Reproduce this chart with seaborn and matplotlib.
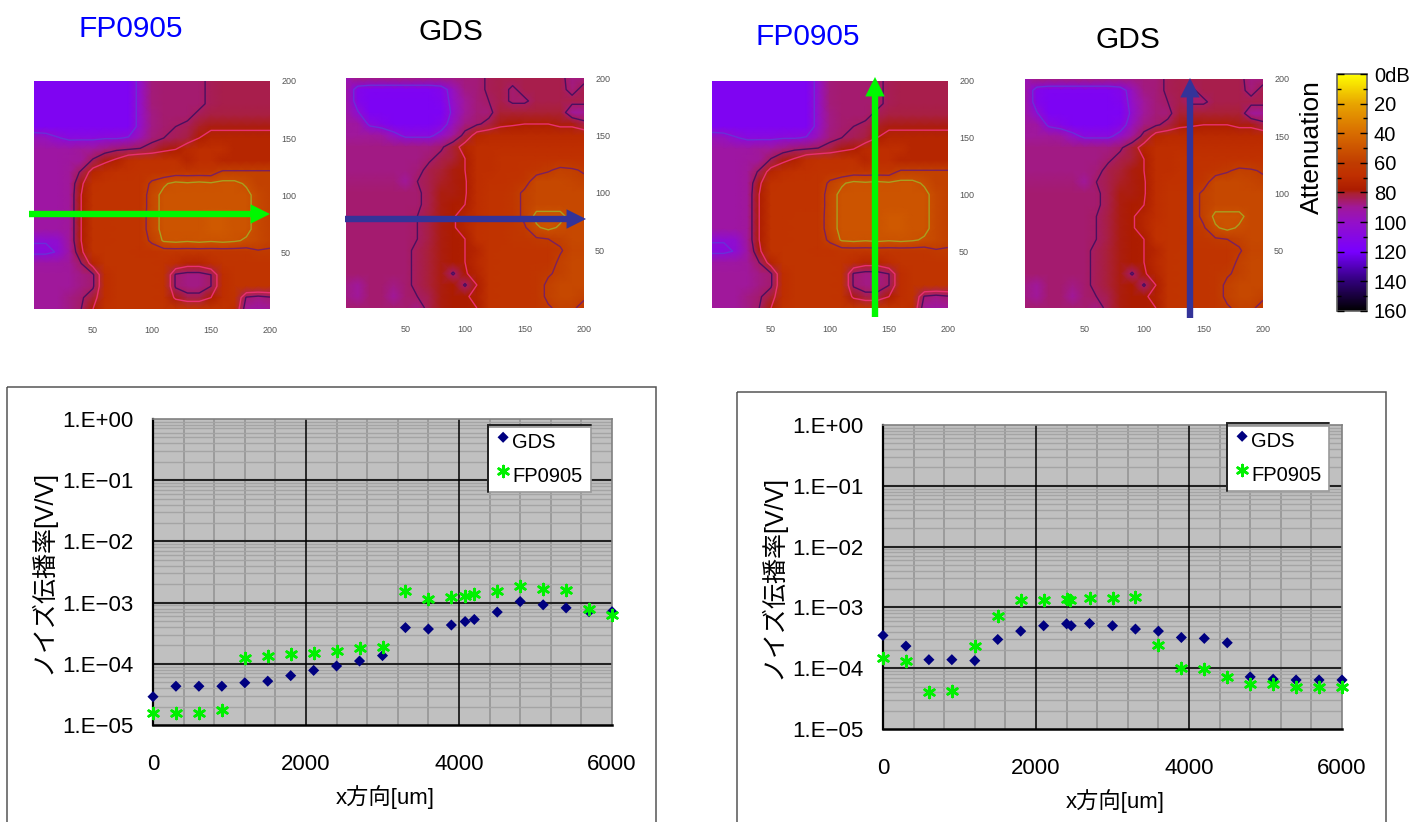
import numpy as np
import pandas as pd
import matplotlib
matplotlib.use("Agg")
import matplotlib.pyplot as plt
import seaborn as sns
from matplotlib.colors import LinearSegmentedColormap
from matplotlib.patches import Rectangle
from matplotlib.ticker import FixedLocator, NullFormatter

W, H = 1428, 822

# attenuation maps, rows from y=200 down to y=0, columns x=0..200 (step 10)
fp0905_map = [
    [115]*9 + [100, 87, 86, 86, 86, 86, 84, 83, 83, 83, 83, 83],
    [115]*9 + [100, 87, 86, 86, 86, 86, 84, 83, 83, 83, 83, 83],
    [115]*9 + [100, 87, 86, 86, 86, 86, 84, 83, 83, 83, 83, 83],
    [115]*9 + [100, 88, 86, 86, 86, 84, 82, 82, 82, 82, 82, 82],
    [115]*9 + [100, 88, 86, 85, 84, 80, 79, 79, 79, 79, 79, 79],
    [96, 98, 104, 108, 108, 108, 106, 106, 104, 95, 87, 85, 84, 82, 77, 73, 73, 73, 73, 73, 73],
    [92, 92, 92, 92, 90, 90, 88, 86, 85, 84, 82, 79, 77, 71, 69, 69, 69, 73, 73, 73, 73],
    [92, 92, 92, 91, 90, 84, 79, 75, 69, 67, 67, 67, 67, 73, 69, 69, 73, 73, 73, 73, 73],
    [92, 92, 92, 90, 84, 73, 69, 67, 67, 66, 66, 66, 64, 64, 64, 64, 58, 58, 58, 58, 58],
    [92, 92, 92, 90, 79, 67, 66, 66, 66, 66, 58, 53, 50, 51, 50, 51, 50, 50, 53, 58, 58],
    [92, 92, 92, 90, 77, 66, 66, 66, 66, 66, 55, 50, 50, 50, 50, 50, 50, 50, 50, 55, 58],
    [92, 92, 92, 90, 77, 66, 66, 66, 66, 66, 55, 50, 50, 50, 50, 50, 50, 50, 50, 55, 58],
    [92, 92, 92, 90, 77, 66, 66, 65, 65, 65, 55, 50, 50, 50, 50, 48, 48, 50, 50, 55, 58],
    [92, 92, 92, 90, 77, 66, 66, 65, 65, 65, 55, 50, 50, 50, 50, 48, 48, 50, 50, 55, 58],
    [104, 104, 102, 90, 77, 66, 66, 65, 65, 65, 58, 51, 50, 51, 50, 51, 50, 51, 53, 55, 58],
    [108, 108, 104, 92, 79, 66, 65, 65, 65, 66, 66, 64, 64, 64, 64, 64, 64, 64, 64, 61, 61],
    [92, 92, 92, 90, 85, 73, 65, 65, 65, 65, 65, 66, 69, 73, 73, 69, 65, 65, 65, 65, 65],
    [90, 90, 90, 90, 88, 86, 69, 65, 65, 65, 65, 66, 86, 88, 88, 85, 69, 65, 65, 65, 65],
    [90, 90, 90, 90, 88, 86, 69, 65, 65, 65, 65, 66, 86, 88, 88, 85, 69, 65, 65, 65, 65],
    [90, 90, 90, 88, 86, 81, 69, 65, 65, 65, 65, 66, 79, 83, 83, 77, 69, 66, 86, 88, 86],
    [90, 90, 90, 88, 85, 77, 67, 65, 65, 65, 65, 65, 65, 65, 65, 65, 66, 69, 90, 92, 90],
]
gds_map = [
    [96, 88, 88, 88, 88, 88, 88, 88, 88, 88, 87, 87, 84, 83, 83, 83, 83, 83, 83, 88, 87],
    [92, 112, 115, 115, 115, 115, 115, 115, 112, 98, 88, 87, 84, 83, 86, 83, 83, 83, 83, 87, 83],
    [92, 112, 116, 116, 116, 116, 116, 116, 114, 100, 90, 87, 85, 83, 86, 86, 83, 83, 83, 83, 83],
    [92, 104, 116, 116, 116, 116, 116, 116, 116, 102, 90, 87, 87, 81, 81, 81, 81, 81, 81, 90, 90],
    [90, 92, 108, 112, 116, 116, 116, 116, 112, 98, 88, 86, 83, 79, 78, 77, 77, 77, 79, 79, 83],
    [90, 90, 90, 92, 100, 108, 108, 108, 100, 90, 83, 73, 71, 71, 71, 71, 71, 71, 71, 71, 71],
    [88, 88, 88, 88, 88, 88, 88, 88, 86, 81, 73, 69, 69, 69, 69, 69, 69, 69, 69, 69, 69],
    [88, 88, 88, 88, 88, 88, 88, 86, 83, 81, 77, 69, 69, 67, 67, 67, 67, 67, 67, 67, 67],
    [88, 88, 88, 88, 88, 88, 87, 83, 81, 79, 77, 69, 69, 67, 67, 66, 64, 61, 58, 59, 61],
    [87, 87, 87, 87, 87, 90, 85, 83, 80, 79, 78, 69, 67, 67, 66, 64, 55, 55, 55, 56, 58],
    [86, 86, 86, 86, 86, 86, 86, 83, 79, 79, 78, 69, 66, 66, 64, 58, 55, 55, 55, 55, 55],
    [86, 86, 86, 86, 86, 86, 86, 83, 79, 78, 77, 69, 66, 66, 64, 58, 55, 55, 55, 55, 55],
    [86, 86, 86, 86, 86, 86, 85, 82, 79, 78, 73, 69, 66, 66, 64, 58, 50, 50, 50, 55, 55],
    [86, 86, 86, 86, 86, 86, 85, 82, 79, 78, 73, 67, 66, 66, 64, 61, 53, 50, 53, 55, 55],
    [86, 86, 86, 86, 86, 86, 85, 82, 79, 78, 77, 67, 66, 66, 64, 64, 61, 60, 58, 55, 55],
    [86, 86, 86, 86, 86, 86, 84, 81, 79, 78, 77, 73, 66, 65, 65, 65, 65, 65, 61, 56, 56],
    [86, 86, 86, 86, 86, 86, 84, 81, 79, 78, 77, 71, 66, 65, 65, 65, 65, 65, 58, 55, 55],
    [86, 86, 86, 86, 86, 86, 84, 81, 79, 86, 78, 73, 66, 65, 65, 65, 64, 61, 58, 55, 55],
    [88, 90, 86, 86, 88, 86, 84, 81, 79, 78, 86, 77, 66, 65, 65, 65, 64, 58, 55, 55, 55],
    [88, 90, 86, 86, 90, 86, 85, 83, 79, 78, 78, 75, 66, 65, 65, 65, 64, 58, 55, 55, 58],
    [86, 86, 86, 86, 86, 86, 88, 83, 79, 78, 78, 77, 66, 65, 65, 65, 64, 61, 58, 58, 64],
]
map_ticks = [50, 100, 150, 200]
cbar_ticks = [0, 20, 40, 60, 80, 100, 120, 140, 160]
cbar_labels = ["0dB", "20", "40", "60", "80", "100", "120", "140", "160"]

# line scans, left chart (x direction)
x_left = [0, 300, 600, 900, 1200, 1500, 1800, 2100, 2400, 2700, 3000, 3300, 3600, 3900, 4080,
          4200, 4500, 4800, 5100, 5400, 5700, 6000]
gds_left = [2.9e-5, 4.3e-5, 4.3e-5, 4.3e-5, 4.9e-5, 5.2e-5, 6.4e-5, 7.8e-5, 9.2e-5, 1.11e-4, 1.36e-4,
            3.9e-4, 3.7e-4, 4.3e-4, 4.9e-4, 5.3e-4, 7.0e-4, 1.04e-3, 9.2e-4, 8.2e-4, 7.1e-4, 7.1e-4]
fp_left = [1.55e-5, 1.55e-5, 1.55e-5, 1.73e-5, 1.25e-4, 1.35e-4, 1.45e-4, 1.52e-4, 1.64e-4, 1.78e-4, 1.87e-4,
           1.54e-3, 1.16e-3, 1.22e-3, 1.3e-3, 1.37e-3, 1.54e-3, 1.88e-3, 1.65e-3, 1.6e-3, 7.8e-4, 6.3e-4]

# right chart (y direction scan)
x_right_gds = [0, 300, 600, 900, 1200, 1500, 1800, 2100, 2400, 2460, 2700, 3000, 3300, 3600, 3900,
               4200, 4500, 4800, 5100, 5400, 5700, 6000]
gds_right = [3.46e-4, 2.31e-4, 1.38e-4, 1.38e-4, 1.33e-4, 2.97e-4, 4.07e-4, 4.99e-4, 5.37e-4, 4.99e-4, 5.44e-4,
             4.99e-4, 4.4e-4, 4.07e-4, 3.2e-4, 3.09e-4, 2.62e-4, 7.2e-5, 6.6e-5, 6.4e-5, 6.4e-5, 6.4e-5]
x_right_fp = [0, 300, 600, 900, 1200, 1500, 1800, 2100, 2400, 2440, 2700, 3000, 3300, 3600, 3900,
              4200, 4500, 4800, 5100, 5400, 5700, 6000]
fp_right = [1.47e-4, 1.29e-4, 4.05e-5, 4.2e-5, 2.28e-4, 7.3e-4, 1.33e-3, 1.33e-3, 1.37e-3, 1.33e-3, 1.42e-3,
            1.43e-3, 1.47e-3, 2.37e-4, 1.02e-4, 9.8e-5, 7.1e-5, 5.56e-5, 5.56e-5, 4.9e-5, 4.9e-5, 4.9e-5]

y_ticks = [1e-5, 1e-4, 1e-3, 1e-2, 1e-1, 1]
y_labels = ["1.E\u221205", "1.E\u221204", "1.E\u221203", "1.E\u221202", "1.E\u221201", "1.E+00"]
x_ticks = [0, 2000, 4000, 6000]
x_minor = [400, 800, 1200, 1600, 2400, 2800, 3200, 3600, 4400, 4800, 5200, 5600]

sns.set_theme(style="white")
plt.rcParams["font.family"] = ["Liberation Sans", "Noto Sans CJK JP", "DejaVu Sans"]

stops = [(0, "#ffff00"), (20, "#e8a400"), (40, "#d86c00"), (60, "#c03c00"), (68, "#c03000"), (78, "#ac1c00"),
         (81, "#aa2036"), (90, "#a0189a"), (100, "#9410c8"), (120, "#7800ff"), (140, "#300078"), (160, "#000000")]
att_cmap = LinearSegmentedColormap.from_list("att", [(v / 160, c) for v, c in stops], N=512)


def px_axes(fig, x0, y0, x1, y1):
    return fig.add_axes([x0 / W, 1 - y1 / H, (x1 - x0) / W, (y1 - y0) / H])


def draw_map(fig, box, grid, cbar_ax=None):
    ax = px_axes(fig, *box)
    data = np.array(grid, dtype=float)
    sns.heatmap(data, ax=ax, cmap=att_cmap, vmin=0, vmax=160, shading="gouraud",
                xticklabels=False, yticklabels=False, cbar=cbar_ax is not None, cbar_ax=cbar_ax)
    n = data.shape[0] - 1
    ax.contour(np.arange(n + 1), np.arange(n + 1), data,
               levels=[52, 60, 77, 85, 105],
               colors=["#a8a020", "#7a2060", "#e83070", "#4a1060", "#6a30d8"], linewidths=1.0)
    ax.set_xlim(0, n)
    ax.set_ylim(n, 0)
    ax.set_xticks([v / 10 for v in map_ticks])
    ax.set_xticklabels(map_ticks)
    ax.yaxis.tick_right()
    ax.set_yticks([(200 - v) / 10 for v in map_ticks])
    ax.set_yticklabels(map_ticks)
    ax.tick_params(axis="x", length=0, pad=12, labelsize=6.5, labelcolor="#555555", rotation=0)
    ax.tick_params(axis="y", length=0, pad=8, labelsize=6.5, labelcolor="#555555", rotation=0)
    for s in ax.spines.values():
        s.set_visible(False)
    return ax


def draw_scan(fig, box, x_gds, y_gds, x_fp, y_fp, legend_box, ylabel_x):
    ax = px_axes(fig, *box)
    df_gds = pd.DataFrame({"x": x_gds, "y": y_gds})
    df_fp = pd.DataFrame({"x": x_fp, "y": y_fp})
    sns.scatterplot(data=df_gds, x="x", y="y", ax=ax, marker="D", s=32, color="#000080",
                    edgecolor="none", label="GDS", clip_on=False, zorder=5)
    sns.scatterplot(data=df_fp, x="x", y="y", ax=ax, marker=(6, 2, 0), s=62, color="#00f000",
                    linewidth=1.9, label="FP0905", clip_on=False, zorder=6)
    ax.set_yscale("log")
    ax.set_xlim(0, 6000)
    ax.set_ylim(1e-5, 1)
    ax.set_facecolor("#c0c0c0")
    ax.set_xticks(x_ticks)
    ax.xaxis.set_minor_locator(FixedLocator(x_minor))
    ax.yaxis.set_major_locator(FixedLocator(y_ticks))
    ax.set_yticklabels(y_labels)
    ax.yaxis.set_minor_locator(FixedLocator([m * 10.0 ** e for e in range(-5, 0) for m in range(2, 10)]))
    ax.yaxis.set_minor_formatter(NullFormatter())
    ax.grid(which="minor", axis="x", color="#9c9c9c", lw=1.4)
    ax.grid(which="minor", axis="y", color="#a4a4a4", lw=1.0)
    ax.grid(which="major", visible=False)
    # decade and 2000 um lines sit above the minor grid
    for v in y_ticks[1:-1]:
        ax.axhline(v, color="#222222", lw=1.5, zorder=1)
    for v in x_ticks[1:-1]:
        ax.axvline(v, color="black", lw=1.1, zorder=1)
    ax.set_axisbelow(True)
    ax.tick_params(which="both", length=0)
    ax.tick_params(axis="x", pad=21, labelsize=16, labelcolor="black")
    ax.tick_params(axis="y", pad=14, labelsize=16, labelcolor="black")
    ax.set_xlabel("x方向[um]", fontsize=16, va="center", color="black")
    ax.set_ylabel("ノイズ伝播率[V/V]", fontsize=18, va="center", color="black")
    bw = box[2] - box[0]
    bh = box[3] - box[1]
    ax.xaxis.set_label_coords(0.505, -72 / bh)
    ax.yaxis.set_label_coords(-(box[0] - ylabel_x) / bw, 0.5)
    ax.spines["left"].set(color="black", lw=1.6)
    ax.spines["bottom"].set(color="black", lw=1.8)
    ax.spines["top"].set(color="#808080", lw=1.2)
    ax.spines["right"].set(color="#808080", lw=1.2)
    lx0, ly0, lx1, ly1 = legend_box
    leg = ax.legend(loc="lower left",
                    bbox_to_anchor=((lx0 - box[0]) / bw, (box[3] - ly1) / bh, (lx1 - lx0) / bw, (ly1 - ly0) / bh),
                    mode="expand", borderaxespad=0, borderpad=0.3, labelspacing=0.75, handletextpad=0.0,
                    handlelength=0.9, fontsize=14.5, frameon=True, fancybox=False, scatteryoffsets=[0.75],
                    framealpha=1, facecolor="white", edgecolor="#9a9a9a", labelcolor="black")
    leg.get_frame().set_linewidth(1.2)
    return ax


fig = plt.figure(figsize=(W / 100, H / 100), dpi=100, facecolor="white")

cax = px_axes(fig, 1337, 74, 1367, 311)
draw_map(fig, (34, 81, 270, 309), fp0905_map, cbar_ax=cax)
draw_map(fig, (346, 78, 584, 308), gds_map)
draw_map(fig, (712, 81, 948, 308), fp0905_map)
draw_map(fig, (1025, 79, 1263, 308), gds_map)

cax.set_ylim(160, 0)
cax.yaxis.tick_right()
cax.set_axisbelow(False)
cax.set_yticks(cbar_ticks)
cax.set_yticklabels(cbar_labels)
cax.yaxis.set_minor_locator(FixedLocator(np.arange(10, 160, 20)))
cax.tick_params(which="major", direction="in", left=True, right=True, length=5, width=1, color="black",
                labelsize=14.5, pad=5, labelcolor="black")
cax.tick_params(which="minor", direction="in", left=True, right=True, length=3, width=1, color="black")
for s in cax.spines.values():
    s.set(color="#606060", lw=1.2)

legend_boxes = [(488, 425, 591, 492), (1227, 423, 1329, 491)]
draw_scan(fig, (153, 419, 612, 725), x_left, gds_left, x_left, fp_left, legend_boxes[0], 42)
draw_scan(fig, (883, 425, 1342, 729), x_right_gds, gds_right, x_right_fp, fp_right, legend_boxes[1], 772)

# overlay in pixel coordinates for the titles, arrows and chart frames
ov = fig.add_axes([0, 0, 1, 1], zorder=20)
ov.set_xlim(0, W)
ov.set_ylim(H, 0)
ov.axis("off")
ov.patch.set_alpha(0)
for cx, cy, txt, col in [(131, 29, "FP0905", "#0000ff"), (451, 32, "GDS", "black"),
                         (808, 37, "FP0905", "#0000ff"), (1128, 40, "GDS", "black")]:
    ov.text(cx, cy, txt, color=col, fontsize=21.5, ha="center", va="center")
ov.text(1312, 147, "Attenuation", fontsize=19, rotation=90, ha="center", va="center", color="black")

for start, end, col in [((29, 214), (270, 214), "#00f800"), ((345, 219), (586, 219), "#333399"),
                        ((875, 317), (875, 77), "#00f800"), ((1190, 318), (1190, 78), "#333399")]:
    ov.annotate("", xy=end, xytext=start,
                arrowprops=dict(width=4.6, headwidth=14, headlength=14, shrink=0,
                                facecolor=col, edgecolor="none"))

for x0, y0, x1 in [(7, 387, 656), (737, 392, 1386)]:
    ov.add_patch(Rectangle((x0, y0), x1 - x0, H + 20 - y0, fill=False, edgecolor="#555555", lw=1.1, clip_on=False))

# legend frames are darker along the left and top edges
for x0, y0, x1, y1 in legend_boxes:
    ov.plot([x0, x0, x1], [y1, y0, y0], color="#222222", lw=1.4, solid_joinstyle="miter")

fig.savefig("out.png", dpi=100)
